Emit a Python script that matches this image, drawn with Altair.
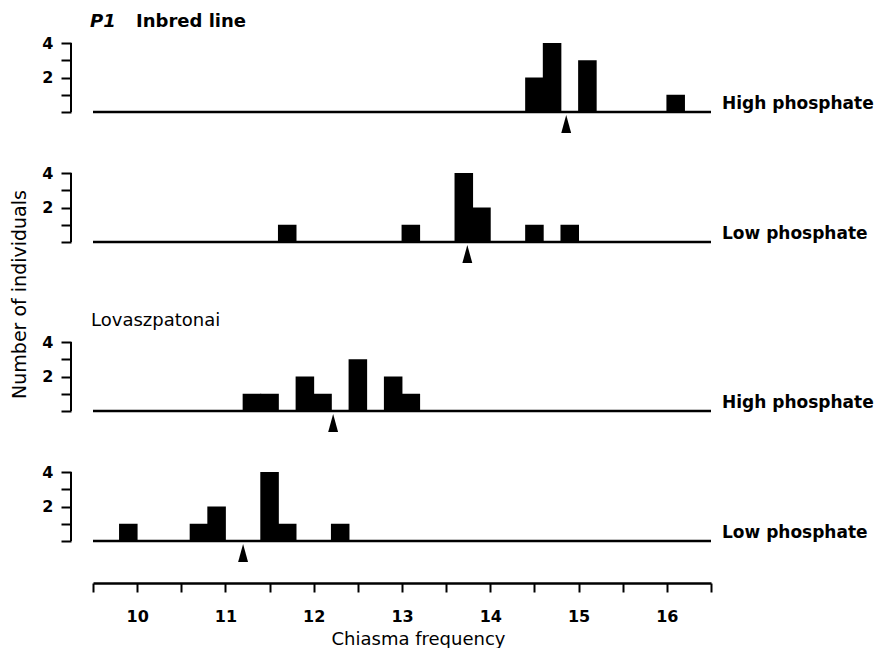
import altair as alt
import pandas as pd

# ---------------- data ----------------
X_DOMAIN = [9.5, 16.5]
BIN_WIDTH = 0.21

x_tick_values = [9.5, 10, 10.5, 11, 11.5, 12, 12.5, 13, 13.5, 14, 14.5, 15, 15.5, 16, 16.5]
y_tick_values = [0, 1, 2, 3, 4]
Y_MAX = 4

line_prefix = "P1"
group_titles = ["Inbred line", "Lovaszpatonai"]
treatments = ["High phosphate", "Low phosphate", "High phosphate", "Low phosphate"]
x_title = "Chiasma frequency"
y_title = "Number of individuals"

p1_high_centres = [14.5, 14.7, 15.1, 16.1]
p1_high_counts = [2, 4, 3, 1]
p1_low_centres = [11.7, 13.1, 13.7, 13.9, 14.5, 14.9]
p1_low_counts = [1, 1, 4, 2, 1, 1]
lov_high_centres = [11.3, 11.5, 11.9, 12.1, 12.5, 12.9, 13.1]
lov_high_counts = [1, 1, 2, 1, 3, 2, 1]
lov_low_centres = [9.9, 10.7, 10.9, 11.5, 11.7, 12.3]
lov_low_counts = [1, 1, 2, 4, 1, 1]
means = [14.86, 13.74, 12.22, 11.20]

# ---------------- styling / layout ----------------
W, H = 618, 69          # plot width, height of the 0..4 range
GAP = 61                # space between panels
EXTRA = 39              # extra room above the Lovaszpatonai panel
FONT = "DejaVu Sans"
ARROW = "M0,-1L0.55,1L-0.55,1Z"

xscale = alt.Scale(domain=X_DOMAIN, nice=False, zero=False)

xaxis_bottom = alt.Axis(
    values=x_tick_values, format=".0f",
    labelExpr="datum.value % 1 == 0 ? datum.label : ''",
    offset=42, tickSize=9, tickWidth=2, domainWidth=2.5,
    domainColor="black", tickColor="black", labelColor="black",
    labelFont=FONT, labelFontSize=16, labelFontWeight="bold",
    labelBaseline="alphabetic", labelPadding=29,
    grid=False, title=x_title, titleFont=FONT, titleFontSize=18,
    titleFontWeight="normal", titleColor="black",
    titleBaseline="alphabetic", titleAlign="center", titleX=325, titleY=61,
)


def panel(centres, counts, mean, treatment, extra=0, bottom=False,
          title=None, title_bold=False, prefix=None, ytitle=None):
    unit = H / Y_MAX
    yscale = alt.Scale(domain=[0, Y_MAX + extra / unit], nice=False, zero=True)
    yaxis = alt.Axis(
        values=y_tick_values,
        labelExpr="datum.value == 2 || datum.value == 4 ? datum.label : ''",
        offset=22, domain=False, tickSize=10, tickWidth=2,
        tickColor="black", labelColor="black",
        labelFont=FONT, labelFontSize=16, labelFontWeight="bold", labelPadding=8,
        grid=False, title=None,
    )
    xaxis = xaxis_bottom if bottom else None
    bars_df = pd.DataFrame({
        "lo": [c - BIN_WIDTH / 2 for c in centres],
        "hi": [c + BIN_WIDTH / 2 for c in centres],
        "n": counts,
    })
    bars = alt.Chart(bars_df).mark_rect(color="black").encode(
        x=alt.X("lo:Q", scale=xscale, axis=xaxis),
        x2="hi:Q",
        y=alt.Y("n:Q", scale=yscale, axis=yaxis),
        y2=alt.Y2Datum(0),
    )
    base = alt.Chart(pd.DataFrame({"a": [X_DOMAIN[0]], "b": [X_DOMAIN[1]]})).mark_rule(
        color="black", strokeWidth=2.5
    ).encode(
        x=alt.X("a:Q", scale=xscale, axis=xaxis),
        x2="b:Q",
        y=alt.YDatum(0, scale=yscale, axis=yaxis),
    )
    bracket = alt.Chart(pd.DataFrame({"lo": [y_tick_values[0]], "hi": [y_tick_values[-1]]})).mark_rule(
        color="black", strokeWidth=2
    ).encode(
        x=alt.value(-22),
        y=alt.Y("lo:Q", scale=yscale, axis=yaxis),
        y2="hi:Q",
    )
    arrow = alt.Chart(pd.DataFrame({"m": [mean]})).mark_point(
        shape=ARROW, size=324, filled=True, color="black", opacity=1, yOffset=12
    ).encode(
        x=alt.X("m:Q", scale=xscale, axis=xaxis),
        y=alt.YDatum(0, scale=yscale, axis=yaxis),
    )
    side = alt.Chart(pd.DataFrame({"t": [treatment]})).mark_text(
        align="left", baseline="alphabetic", font=FONT, fontSize=17,
        fontWeight="bold", color="black", dy=-3
    ).encode(x=alt.value(W + 11), y=alt.value(H + extra), text="t:N")
    layers = [bars, base, bracket, arrow, side]
    if title is not None:
        layers.append(
            alt.Chart(pd.DataFrame({"t": [title]})).mark_text(
                align="left", baseline="alphabetic", font=FONT, fontSize=18,
                fontWeight="bold" if title_bold else "normal", color="black"
            ).encode(x=alt.value(43 if prefix else -2), y=alt.value(extra - 16), text="t:N")
        )
    if prefix is not None:
        layers.append(
            alt.Chart(pd.DataFrame({"t": [prefix]})).mark_text(
                align="left", baseline="alphabetic", font=FONT, fontSize=18,
                fontWeight="bold", fontStyle="italic", color="black"
            ).encode(x=alt.value(-3), y=alt.value(extra - 16), text="t:N")
        )
    if ytitle is not None:
        layers.append(
            alt.Chart(pd.DataFrame({"t": [ytitle]})).mark_text(
                align="center", baseline="middle", angle=270, font=FONT,
                fontSize=19, color="black"
            ).encode(x=alt.value(-73), y=alt.value(-8.5), text="t:N")
        )
    return alt.layer(*layers).properties(width=W, height=H + extra)


p1 = panel(p1_high_centres, p1_high_counts, means[0], treatments[0],
           title=group_titles[0], title_bold=True, prefix=line_prefix)
p2 = panel(p1_low_centres, p1_low_counts, means[1], treatments[1])
p3 = panel(lov_high_centres, lov_high_counts, means[2], treatments[2], extra=EXTRA,
           title=group_titles[1], ytitle=y_title)
p4 = panel(lov_low_centres, lov_low_counts, means[3], treatments[3], bottom=True)

chart = alt.vconcat(p1, p2, p3, p4, spacing=GAP, bounds="flush").properties(
    padding={"top": 5, "left": 2, "right": 0, "bottom": 0},
    background="white",
).configure_view(stroke=None)

chart.save("out.html", embed_options={"renderer": "svg", "actions": False})
